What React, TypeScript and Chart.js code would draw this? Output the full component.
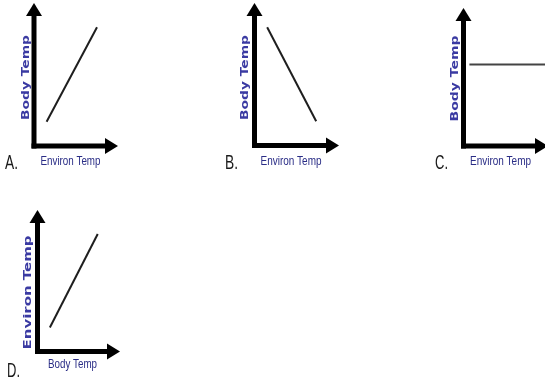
import React, { useEffect, useRef } from "react";
import { Chart, registerables } from "chart.js";

Chart.register(...registerables);

// ---- data ----
const panelLetters = ["A.", "B.", "C.", "D."];
const xAxisLabels = ["Environ Temp", "Environ Temp", "Environ Temp", "Body Temp"];
const yAxisLabels = ["Body Temp", "Body Temp", "Body Temp", "Environ Temp"];
const lineA = [{ x: 15, y: 17 }, { x: 75, y: 83 }];
const lineB = [{ x: 15, y: 83 }, { x: 73, y: 17 }];
const lineC = [{ x: 7, y: 59 }, { x: 100, y: 59 }];
const lineD = [{ x: 15, y: 17 }, { x: 73, y: 83 }];
const panelLines = [lineA, lineB, lineC, lineD];
const lineColors = ["#1e1e1e", "#1e1e1e", "#444444", "#1e1e1e"];

// ---- layout (page pixels) ----
const CW = 560;
const CH = 380;
const layouts = [
  { axisX: 34, axisY: 146, tipX: 118, tipY: 3, letterX: 5, letterBase: 169, xLabelX: 70.5, xLabelBase: 164.5, xLabelW: 60, yLabelX: 29, yLabelY: 77.5, yLabelLen: 85 },
  { axisX: 254.5, axisY: 145.5, tipX: 339, tipY: 3, letterX: 225, letterBase: 169, xLabelX: 291, xLabelBase: 164.5, xLabelW: 61, yLabelX: 248, yLabelY: 77.5, yLabelLen: 85 },
  { axisX: 463.5, axisY: 146, tipX: 548, tipY: 8, letterX: 435, letterBase: 169, xLabelX: 500.5, xLabelBase: 164.5, xLabelW: 61, yLabelX: 458, yLabelY: 78.5, yLabelLen: 86 },
  { axisX: 37.5, axisY: 351.5, tipX: 120, tipY: 210, letterX: 7, letterBase: 377, xLabelX: 72.5, xLabelBase: 368, xLabelW: 49, yLabelX: 31, yLabelY: 292.5, yLabelLen: 114 },
];

const AXIS_W = 5;
const HEAD_L = 13;
const HEAD_HW = 8;

function fitText(ctx: CanvasRenderingContext2D, text: string, width: number) {
  const w = ctx.measureText(text).width;
  return w > 0 ? width / w : 1;
}

function Panel({ idx }: { idx: number }) {
  const ref = useRef<HTMLCanvasElement | null>(null);
  useEffect(() => {
    const L = layouts[idx];
    const decor = {
      id: "decor" + idx,
      afterDraw(chart: any) {
        const ctx: CanvasRenderingContext2D = chart.ctx;
        const a = chart.chartArea;
        const left = a.left, bottom = a.bottom, right = a.right, top = a.top;
        ctx.save();
        ctx.fillStyle = "#000";
        // y axis shaft
        ctx.fillRect(left - AXIS_W / 2, top + HEAD_L - 1, AXIS_W, bottom + AXIS_W / 2 - (top + HEAD_L - 1));
        // y arrow head
        ctx.beginPath();
        ctx.moveTo(left, top);
        ctx.lineTo(left - HEAD_HW, top + HEAD_L);
        ctx.lineTo(left + HEAD_HW, top + HEAD_L);
        ctx.closePath();
        ctx.fill();
        // x axis shaft
        ctx.fillRect(left - AXIS_W / 2, bottom - AXIS_W / 2, right - HEAD_L + 1 - (left - AXIS_W / 2), AXIS_W);
        // x arrow head
        ctx.beginPath();
        ctx.moveTo(right, bottom);
        ctx.lineTo(right - HEAD_L, bottom - HEAD_HW);
        ctx.lineTo(right - HEAD_L, bottom + HEAD_HW);
        ctx.closePath();
        ctx.fill();

        // panel letter
        ctx.fillStyle = "#1a1a1a";
        ctx.font = "21px 'Liberation Sans Narrow', 'Liberation Sans', Arial, sans-serif";
        ctx.textAlign = "left";
        ctx.textBaseline = "alphabetic";
        ctx.save();
        ctx.translate(L.letterX, L.letterBase);
        const sl = fitText(ctx, panelLetters[idx], 13);
        ctx.scale(sl, 1);
        ctx.fillText(panelLetters[idx], 0, 0);
        ctx.restore();

        // x label
        ctx.fillStyle = "#2a2d86";
        ctx.font = "12.5px 'Liberation Sans Narrow', 'Liberation Sans', Arial, sans-serif";
        ctx.textAlign = "center";
        ctx.save();
        ctx.translate(L.xLabelX, L.xLabelBase);
        const sx = fitText(ctx, xAxisLabels[idx], L.xLabelW);
        ctx.scale(sx, 1);
        ctx.fillText(xAxisLabels[idx], 0, 0);
        ctx.restore();

        // y label (rotated)
        ctx.fillStyle = "#3a3aa2";
        ctx.font = "bold 10px 'DejaVu Sans', Verdana, sans-serif";
        ctx.save();
        ctx.translate(L.yLabelX, L.yLabelY);
        ctx.rotate(-Math.PI / 2);
        const sy = fitText(ctx, yAxisLabels[idx], L.yLabelLen);
        ctx.scale(sy, 1);
        ctx.fillText(yAxisLabels[idx], 0, 0);
        ctx.restore();
        ctx.restore();
      },
    };
    const chart = new Chart(ref.current as HTMLCanvasElement, {
      type: "scatter",
      data: {
        datasets: [
          {
            data: panelLines[idx],
            showLine: true,
            borderColor: lineColors[idx],
            borderWidth: 2,
            pointRadius: 0,
            pointHoverRadius: 0,
            fill: false,
          },
        ],
      },
      options: {
        responsive: false,
        animation: false,
        events: [],
        layout: {
          padding: {
            left: L.axisX,
            right: CW - L.tipX,
            top: L.tipY,
            bottom: CH - L.axisY,
          },
        },
        scales: {
          x: { type: "linear", min: 0, max: 100, display: false },
          y: { type: "linear", min: 0, max: 100, display: false },
        },
        plugins: {
          legend: { display: false },
          title: { display: false },
          tooltip: { enabled: false },
        },
      } as any,
      plugins: [decor],
    });
    return () => chart.destroy();
  }, [idx]);
  return (
    <canvas
      ref={ref}
      width={CW}
      height={CH}
      style={{ position: "absolute", left: 0, top: 0, width: CW, height: CH }}
    />
  );
}

export default function App() {
  return (
    <div
      style={{
        position: "fixed",
        left: 0,
        top: 0,
        width: 545,
        height: 380,
        overflow: "hidden",
        background: "#ffffff",
      }}
    >
      {[0, 1, 2, 3].map((i) => (
        <Panel key={i} idx={i} />
      ))}
    </div>
  );
}
